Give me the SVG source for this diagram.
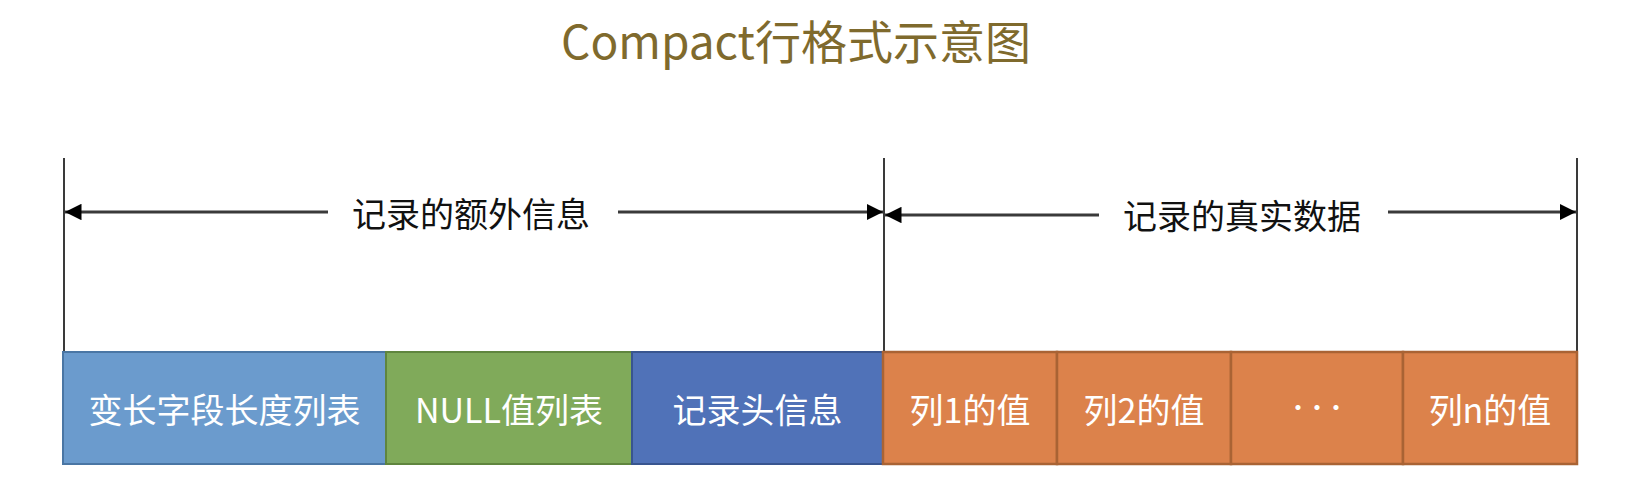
<svg xmlns="http://www.w3.org/2000/svg" width="1630" height="494" viewBox="0 0 1630 494">
<style>
text{font-family:"Noto Sans CJK SC","Noto Sans",sans-serif;}
.title{font-size:46px;fill:#7f6a2d;text-anchor:middle;}
.lbl{font-size:34px;fill:#111;text-anchor:middle;}
.box{font-size:34px;fill:#fff;text-anchor:middle;}
.line{stroke:#3a3a3a;stroke-width:2;fill:none;}
.arr{stroke:#3a3a3a;stroke-width:3;fill:none;}
</style>
<defs>
<marker id="ah" viewBox="0 0 10 10" refX="10" refY="5" markerWidth="5.5" markerHeight="5.5" orient="auto" markerUnits="strokeWidth">
<path d="M0,0 L10,5 L0,10 Z" fill="#000"/>
</marker>
</defs>
<rect width="1630" height="494" fill="#fff"/>
<text class="title" x="796" y="59">Compact行格式示意图</text>
<g id="connectors">
<line class="line" x1="64" y1="158" x2="64" y2="352"/>
<line class="line" x1="884" y1="158" x2="884" y2="352"/>
<line class="line" x1="1577" y1="158" x2="1577" y2="352"/>
<line class="arr" x1="328" y1="212" x2="65" y2="212" marker-end="url(#ah)"/>
<line class="arr" x1="618" y1="212" x2="883" y2="212" marker-end="url(#ah)"/>
<line class="arr" x1="1099" y1="215" x2="885" y2="215" marker-end="url(#ah)"/>
<line class="arr" x1="1388" y1="212" x2="1576" y2="212" marker-end="url(#ah)"/>
</g>
<g id="label-extra"><text class="lbl" x="471" y="227">记录的额外信息</text></g>
<g id="label-real"><text class="lbl" x="1242" y="229">记录的真实数据</text></g>
<g id="n-varlen"><rect x="63" y="352" width="323" height="112" fill="#6b9bcd" stroke="#4a76a4" stroke-width="2"/><text class="box" x="224.5" y="423">变长字段长度列表</text></g>
<g id="n-null"><rect x="386" y="352" width="246" height="112" fill="#80aa5a" stroke="#5f853e" stroke-width="2"/><text class="box" x="509" y="423">NULL值列表</text></g>
<g id="n-header"><rect x="632" y="352" width="251" height="112" fill="#5072b8" stroke="#38558f" stroke-width="2"/><text class="box" x="757.5" y="423">记录头信息</text></g>
<g id="n-col1"><rect x="883" y="352" width="174" height="112" fill="#dc824b" stroke="#a96334" stroke-width="2.5"/><text class="box" x="970" y="423">列1的值</text></g>
<g id="n-col2"><rect x="1057" y="352" width="174" height="112" fill="#dc824b" stroke="#a96334" stroke-width="2.5"/><text class="box" x="1144" y="423">列2的值</text></g>
<g id="n-dots"><rect x="1231" y="352" width="172" height="112" fill="#dc824b" stroke="#a96334" stroke-width="2.5"/><text class="box" x="1298 1317 1336" y="416" style="font-size:24px">···</text></g>
<g id="n-coln"><rect x="1403" y="352" width="174" height="112" fill="#dc824b" stroke="#a96334" stroke-width="2.5"/><text class="box" x="1490" y="423">列n的值</text></g>
</svg>
